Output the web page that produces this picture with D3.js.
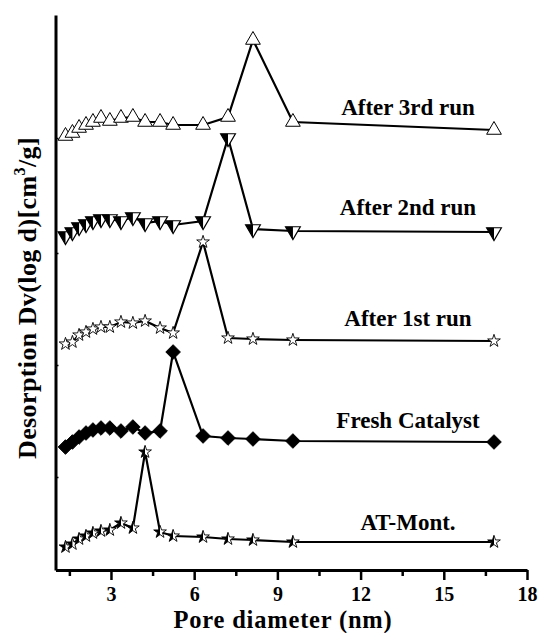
<!DOCTYPE html>
<html><head><meta charset="utf-8">
<script src="https://cdn.jsdelivr.net/npm/d3@7"></script>
<style>
html,body{margin:0;padding:0;background:#fff;}
svg{display:block;}
</style></head>
<body>
<svg id="chart" width="540" height="633"></svg>
<script>
// ---- data (pore diameter in nm, desorption in arbitrary stacked units) ----
const diameters = [1.36,1.61,1.85,2.10,2.35,2.64,2.96,3.36,3.79,4.23,4.77,5.24,6.32,7.22,8.12,9.56,16.81];
const atMont  = [4.6,5.2,6.2,6.8,7.4,7.8,8.0,9.4,8.4,23.6,7.6,6.8,6.6,6.2,6.0,5.6,5.6];
const fresh   = [24.6,25.6,26.6,27.4,28.0,28.4,28.4,27.8,28.6,27.4,27.8,43.6,26.8,26.4,26.2,25.8,25.6];
const run1    = [45.2,45.6,47.0,47.6,48.2,48.6,48.6,49.6,49.4,49.8,48.4,47.4,65.6,46.4,46.2,46.0,45.8];
const run2    = [66.8,67.6,68.6,69.2,69.8,70.2,70.2,69.8,70.6,69.4,69.8,69.0,69.8,86.4,68.2,67.8,67.6];
const run3    = [86.8,87.4,88.4,89.0,89.6,90.4,89.8,90.4,90.6,89.6,89.6,89.0,89.0,90.6,106.0,89.6,88.0];
const seriesNames = ["AT-Mont.","Fresh Catalyst","After 1st run","After 2nd run","After 3rd run"];
const labelX = 13.71;
const labelY = [8, 28.4, 48.8, 71, 91];
const xMajorTicks = [3,6,9,12,15,18];
const xMinorTicks = [1.5,4.5,7.5,10.5,13.5,16.5];
const yTicks = [18.6,41,63.4,86.4];
const xTitle = "Pore diameter (nm)";

const FONT = "'Liberation Serif', 'Times New Roman', Tinos, 'Nimbus Roman', 'DejaVu Serif', serif";
const svg = d3.select("#chart");
const x = d3.scaleLinear().domain([1,18]).range([55.5,527]);
const y = d3.scaleLinear().domain([0,111]).range([570,15]);

const series = [
  {name:seriesNames[0], vals:atMont, marker:"halfstar"},
  {name:seriesNames[1], vals:fresh,  marker:"diamond"},
  {name:seriesNames[2], vals:run1,   marker:"star"},
  {name:seriesNames[3], vals:run2,   marker:"halftri"},
  {name:seriesNames[4], vals:run3,   marker:"tri"}
];

svg.append("defs").append("clipPath").attr("id","lefthalf")
  .attr("clipPathUnits","userSpaceOnUse")
  .append("rect").attr("x",-12).attr("y",-12).attr("width",12).attr("height",24);

const line = d3.line().x((d,i)=>x(diameters[i])).y(d=>y(d));
const starPath = d3.symbol().type(d3.symbolStar).size(50)();
const triPath = d3.symbol().type(d3.symbolTriangle).size(94)();
const s = 14.8, h = s*Math.sqrt(3)/2;
const invTri = `M${-s/2},${-h/3}L${s/2},${-h/3}L0,${2*h/3}Z`;
const invTriLeft = `M${-s/2},${-h/3}L0,${-h/3}L0,${2*h/3}Z`;
const dm = 7.3;
const diamondPath = `M0,${-dm}L${dm},0L0,${dm}L${-dm},0Z`;

series.forEach(sr=>{
  svg.append("path").attr("d",line(sr.vals)).attr("fill","none")
    .attr("stroke","#000").attr("stroke-width",2.2);
  const g = svg.append("g").selectAll("g").data(sr.vals).join("g")
    .attr("transform",(d,i)=>`translate(${x(diameters[i])},${y(d)})`);
  if(sr.marker==="tri"){
    g.append("path").attr("d",triPath).attr("fill","#fff").attr("stroke","#000").attr("stroke-width",1);
  } else if(sr.marker==="halftri"){
    g.append("path").attr("d",invTri).attr("fill","#fff").attr("stroke","#000").attr("stroke-width",1.2);
    g.append("path").attr("d",invTriLeft).attr("fill","#000");
  } else if(sr.marker==="star"){
    g.append("path").attr("d",starPath).attr("fill","#fff").attr("stroke","#000").attr("stroke-width",0.9);
  } else if(sr.marker==="halfstar"){
    g.append("path").attr("d",starPath).attr("fill","#fff");
    g.append("path").attr("d",starPath).attr("fill","#000").attr("clip-path","url(#lefthalf)");
    g.append("path").attr("d",starPath).attr("fill","none").attr("stroke","#000").attr("stroke-width",0.9);
  } else if(sr.marker==="diamond"){
    g.append("path").attr("d",diamondPath).attr("fill","#000").attr("stroke","#000").attr("stroke-width",1);
  }
});

// series labels
svg.append("g").selectAll("text").data(series).join("text")
  .attr("x",x(labelX)).attr("y",(d,i)=>y(labelY[i]))
  .attr("text-anchor","middle")
  .style("font-family",FONT).style("font-weight","bold").style("font-size","23px")
  .text(d=>d.name);

// axes
const xAxis = svg.append("g").attr("transform",`translate(0,${y(0)})`)
  .call(d3.axisBottom(x).tickValues(xMajorTicks).tickSize(10).tickSizeOuter(0).tickPadding(0).tickFormat(d3.format("d")));
xAxis.select(".domain").attr("stroke-width",3).attr("stroke","#000");
xAxis.selectAll(".tick line").attr("stroke-width",2.5);
xAxis.selectAll(".tick text").attr("y",31).attr("dy",null)
  .style("font-family",FONT).style("font-weight","bold").style("font-size","20px").attr("fill","#000");

const xMinor = svg.append("g").attr("transform",`translate(0,${y(0)})`)
  .call(d3.axisBottom(x).tickValues(xMinorTicks).tickSize(6).tickSizeOuter(0).tickFormat(""));
xMinor.select(".domain").remove();
xMinor.selectAll(".tick line").attr("stroke-width",2.5);

const yAxis = svg.append("g").attr("transform",`translate(${x(1)},0)`)
  .call(d3.axisLeft(y).tickValues(yTicks).tickSize(-3).tickSizeOuter(0).tickFormat(""));
yAxis.select(".domain").attr("stroke-width",3).attr("stroke","#000");
yAxis.selectAll(".tick line").attr("stroke-width",1.5);

// axis titles
svg.append("text").attr("x",283).attr("y",627.5).attr("text-anchor","middle")
  .style("font-family",FONT).style("font-weight","bold").style("font-size","24.5px")
  .style("letter-spacing","0.8px")
  .text(xTitle);

const yt = svg.append("text").attr("transform","translate(36,298) rotate(-90)")
  .attr("text-anchor","middle")
  .style("font-family",FONT).style("font-weight","bold").style("font-size","26px")
  .style("letter-spacing","0.4px");
yt.append("tspan").text("Desorption Dv(log d)[cm");
yt.append("tspan").style("font-size","16px").attr("dy",-11).text("3");
yt.append("tspan").attr("dy",11).text("/g]");
</script>
</body></html>
